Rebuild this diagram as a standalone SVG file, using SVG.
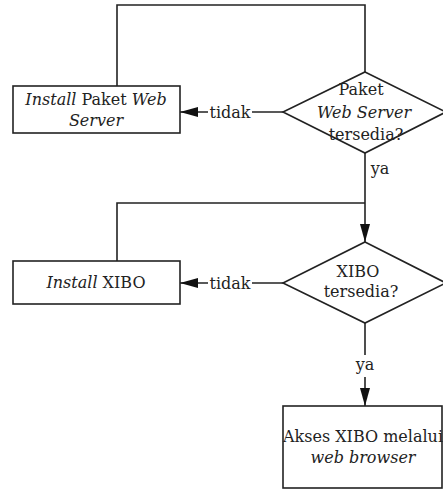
<svg xmlns="http://www.w3.org/2000/svg" width="443" height="490" viewBox="0 0 443 490">
<defs>
<style>
.n{fill:#fff;stroke:#222;stroke-width:1.6}
.c{fill:none;stroke:#222;stroke-width:1.6}
.t{font-family:'DejaVu Serif',serif;font-size:16px;fill:#222;text-anchor:middle}
.i{font-style:italic}
.bg{fill:#fff}
</style>
<marker id="ah2" markerWidth="18" markerHeight="10" refX="18" refY="5" orient="auto" markerUnits="userSpaceOnUse" viewBox="0 0 18 10">
<path d="M0,0 L18,5 L0,10 Z" fill="#111"/>
</marker>
</defs>
<rect width="443" height="490" fill="#fff"/>
<g id="connectors">
<path class="c" d="M117,86 V5 H365 V72"/>
<path class="c" d="M283,112 H180" marker-end="url(#ah2)"/>
<rect class="bg" x="208" y="102" width="44" height="20"/>
<text class="t" x="230" y="118">tidak</text>
<path class="c" d="M365,153 V242" marker-end="url(#ah2)"/>
<text class="t" x="380" y="174">ya</text>
<path class="c" d="M117,261 V203 H365"/>
<path class="c" d="M283,283 H180" marker-end="url(#ah2)"/>
<rect class="bg" x="208" y="273" width="44" height="20"/>
<text class="t" x="230" y="289">tidak</text>
<path class="c" d="M365,323 V406" marker-end="url(#ah2)"/>
<rect class="bg" x="352" y="355" width="26" height="22"/>
<text class="t" x="365" y="370">ya</text>
</g>
<g id="install-webserver">
<rect class="n" x="13" y="86" width="167" height="47"/>
<text class="t" x="96" y="105"><tspan class="i">Install</tspan> Paket <tspan class="i">Web</tspan></text>
<text class="t i" x="96" y="126">Server</text>
</g>
<g id="cek-webserver">
<polygon class="n" points="365,72 446,112 365,153 283,112"/>
<text class="t" x="361" y="95">Paket</text>
<text class="t i" x="364" y="118">Web Server</text>
<text class="t" x="366" y="140">tersedia?</text>
</g>
<g id="install-xibo">
<rect class="n" x="13" y="261" width="167" height="43"/>
<text class="t" x="96" y="288"><tspan class="i">Install</tspan> XIBO</text>
</g>
<g id="cek-xibo">
<polygon class="n" points="365,242 446,283 365,323 283,283"/>
<text class="t" x="358" y="277">XIBO</text>
<text class="t" x="361" y="297">tersedia?</text>
</g>
<g id="akses-xibo">
<rect class="n" x="283" y="406" width="159" height="82"/>
<text class="t" x="363" y="442">Akses XIBO melalui</text>
<text class="t i" x="363" y="463">web browser</text>
</g>
</svg>
